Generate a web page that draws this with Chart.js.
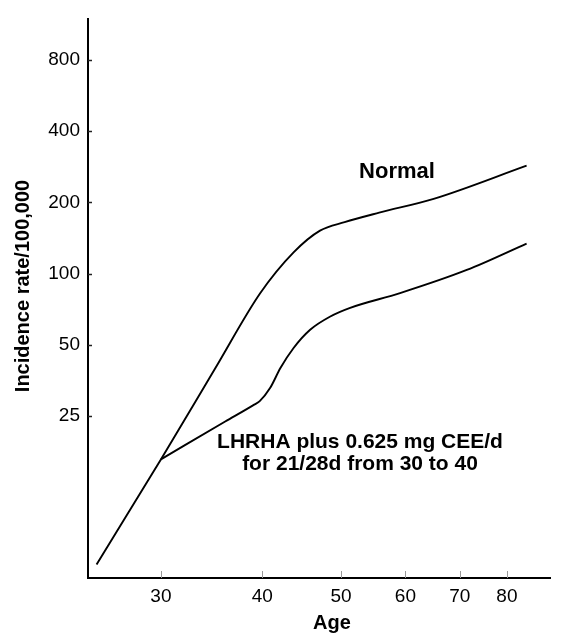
<!DOCTYPE html>
<html>
<head>
<meta charset="utf-8">
<script src="https://cdn.jsdelivr.net/npm/chart.js@4.4.0/dist/chart.umd.min.js"></script>
<style>
  html, body { margin: 0; padding: 0; background: #fff; }
  #wrap { width: 566px; height: 635px; }
</style>
</head>
<body>
<div id="wrap"><canvas id="chart" width="566" height="635"></canvas></div>
<script>
// ---- data (log-log axes) ----
const normalAge  = [25, 30, 35, 39.75, 43.7, 47.1, 50.5, 55.7, 65, 84.6];
const normalRate = [5.9, 16.4, 39.8, 82.6, 123, 152, 165, 181, 207, 286];

const treatedAge  = [30, 32, 36, 39, 39.7, 40.9, 42.1, 43.7, 45.8, 48.5, 51.2, 59.1, 71.4, 84.6];
const treatedRate = [16.4, 18.7, 23.7, 27.8, 28.9, 32.9, 39.9, 48.5, 57.9, 65.9, 71.5, 82.7, 103.6, 134];

const ageTicks  = [30, 40, 50, 60, 70, 80];
const rateTicks = [25, 50, 100, 200, 400, 800];

const normalLabel = 'Normal';
const treatedLabel = ['LHRHA plus 0.625 mg CEE/d', 'for 21/28d from 30 to 40'];
const xTitle = 'Age';
const yTitle = 'Incidence rate/100,000';

function toPoints(xs, ys) {
    return xs.map((x, i) => ({ x: x, y: ys[i] }));
}

const FONT = '"Liberation Sans", Arial, sans-serif';

// inward tick marks + free text labels
const extrasPlugin = {
    id: 'extras',
    afterDraw(chart) {
        const ctx = chart.ctx;
        const xs = chart.scales.x;
        const ys = chart.scales.y;
        const area = chart.chartArea;
        ctx.save();

        // y ticks point into the plot
        ctx.strokeStyle = '#222';
        ctx.lineWidth = 1.5;
        rateTicks.forEach(v => {
            const py = Math.round(ys.getPixelForValue(v)) + 0.5;
            ctx.beginPath();
            ctx.moveTo(area.left, py);
            ctx.lineTo(area.left + 4, py);
            ctx.stroke();
        });
        // x ticks point up
        ctx.strokeStyle = '#999';
        ctx.lineWidth = 1;
        ageTicks.forEach(v => {
            const px = Math.round(xs.getPixelForValue(v)) + 0.5;
            ctx.beginPath();
            ctx.moveTo(px, area.bottom);
            ctx.lineTo(px, area.bottom - 7);
            ctx.stroke();
        });

        ctx.fillStyle = '#000';
        ctx.textAlign = 'center';
        ctx.textBaseline = 'middle';
        ctx.font = 'bold 22px ' + FONT;
        ctx.fillText(normalLabel, 397, 172);

        ctx.font = 'bold 21px ' + FONT;
        ctx.fillText(treatedLabel[0], 360, 442);
        ctx.fillText(treatedLabel[1], 360, 464);

        // axis titles (x one sits right of the plot centre in the original)
        ctx.font = 'bold 20px ' + FONT;
        ctx.fillText(xTitle, 332, 623);

        ctx.translate(23, 286);
        ctx.rotate(-Math.PI / 2);
        ctx.fillText(yTitle, 0, 0);
        ctx.restore();
    }
};

const tickFont = { family: FONT, size: 19 };

new Chart(document.getElementById('chart'), {
    type: 'line',
    data: {
        datasets: [
            {
                label: 'Normal',
                data: toPoints(normalAge, normalRate),
                borderColor: '#000',
                borderWidth: 1.9,
                pointRadius: 0,
                cubicInterpolationMode: 'monotone',
                fill: false
            },
            {
                label: 'LHRHA + CEE',
                data: toPoints(treatedAge, treatedRate),
                borderColor: '#000',
                borderWidth: 1.9,
                pointRadius: 0,
                cubicInterpolationMode: 'monotone',
                fill: false
            }
        ]
    },
    options: {
        responsive: false,
        animation: false,
        events: [],
        layout: { padding: { top: 13, right: 16, left: 0, bottom: 0 } },
        plugins: {
            legend: { display: false },
            tooltip: { enabled: false }
        },
        scales: {
            x: {
                type: 'logarithmic',
                min: 24.4,
                max: 90.4,
                afterFit: s => { s.height = 57; },
                afterBuildTicks: s => { s.ticks = ageTicks.map(v => ({ value: v })); },
                grid: { display: false, drawTicks: false },
                border: { display: true, color: '#000', width: 2 },
                ticks: {
                    color: '#000',
                    font: tickFont,
                    padding: 7,
                    autoSkip: false,
                    maxRotation: 0,
                    callback: v => String(v)
                }
            },
            y: {
                type: 'logarithmic',
                min: 5.17,
                max: 1187,
                afterFit: s => { s.width = 88; },
                afterBuildTicks: s => { s.ticks = rateTicks.map(v => ({ value: v })); },
                grid: { display: false, drawTicks: false },
                border: { display: true, color: '#000', width: 2 },
                ticks: {
                    color: '#000',
                    font: tickFont,
                    padding: 8,
                    autoSkip: false,
                    callback: v => String(v)
                }
            }
        }
    },
    plugins: [extrasPlugin]
});
</script>
</body>
</html>
